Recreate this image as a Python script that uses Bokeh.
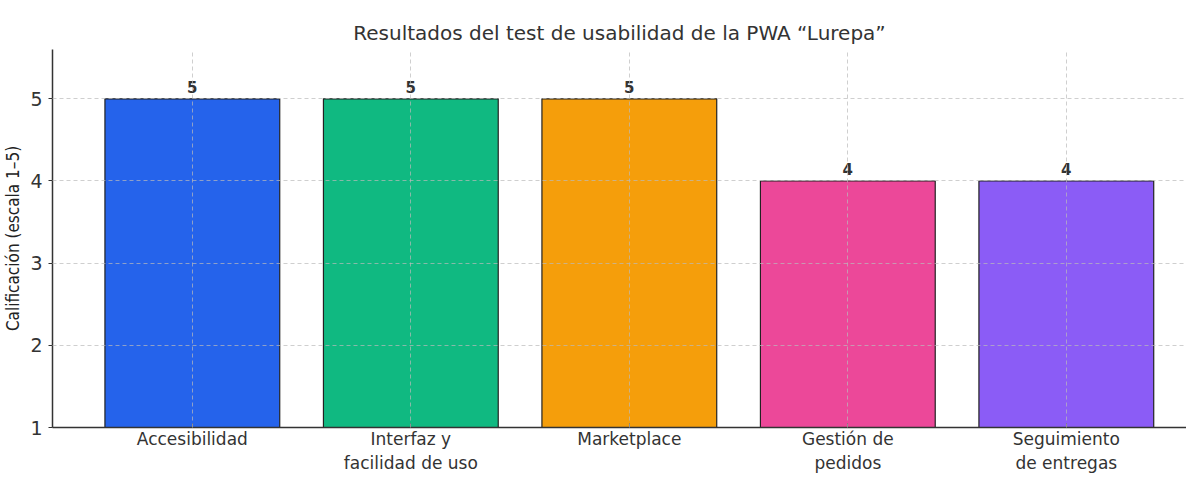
from bokeh.plotting import figure
from bokeh.models import ColumnDataSource, FixedTicker, Range1d
from bokeh.embed import file_html
from bokeh.resources import INLINE
from bokeh.core.properties import value

categories = ["Accesibilidad", "Interfaz y\nfacilidad de uso", "Marketplace",
              "Gestión de\npedidos", "Seguimiento\nde entregas"]
scores = [5, 5, 5, 4, 4]
bar_colors = ["#2563EB", "#10B981", "#F59E0B", "#EC4899", "#8B5CF6"]
y_ticks = [1, 2, 3, 4, 5]

xs = list(range(len(categories)))
src = ColumnDataSource(dict(x=xs, top=scores, color=bar_colors,
                            label=[str(s) for s in scores]))

p = figure(width=1186, height=475, output_backend="svg", toolbar_location=None,
           x_range=Range1d(-0.64, 4.55), y_range=Range1d(1, 5.6),
           min_border_left=50, min_border_right=0, min_border_top=49,
           min_border_bottom=0)
p.outline_line_color = None

p.title.text = "Resultados del test de usabilidad de la PWA “Lurepa”"
p.title.align = "center"
p.title.text_font = "DejaVu Sans"
p.title.text_font_size = "20px"
p.title.text_font_style = "normal"
p.title.text_color = "#333333"

p.vbar(x="x", top="top", bottom=1, width=0.8, fill_color="color",
       line_color="#222222", line_width=1.2, source=src)

p.text(x="x", y="top", text="label", source=src, y_offset=-6,
       text_align="center", text_baseline="bottom",
       text_font=value("DejaVu Sans"), text_font_style="bold",
       text_font_size="15px", text_color="#333333")

p.xaxis.ticker = FixedTicker(ticks=xs)
p.xaxis.major_label_overrides = {i: c for i, c in enumerate(categories)}
p.yaxis.ticker = FixedTicker(ticks=y_ticks)
p.yaxis.axis_label = "Calificación (escala 1–5)"

for ax in (p.xaxis[0], p.yaxis[0]):
    ax.axis_line_color = "#333333"
    ax.axis_line_width = 1.5
    ax.major_tick_line_color = "#333333"
    ax.minor_tick_line_color = None
    ax.major_label_text_font = "DejaVu Sans"
    ax.major_label_text_color = "#333333"

p.xaxis.major_tick_in = 4
p.xaxis.major_tick_out = 0
p.xaxis.major_label_text_font_size = "17px"
p.xaxis.major_label_standoff = 1
p.yaxis.major_tick_in = 0
p.yaxis.major_tick_out = 4
p.yaxis.major_label_text_font_size = "19px"
p.yaxis.major_label_standoff = 6
p.yaxis.axis_label_text_font = "DejaVu Sans Condensed"
p.yaxis.axis_label_text_font_size = "17px"
p.yaxis.axis_label_text_font_style = "normal"
p.yaxis.axis_label_text_color = "#222222"
p.yaxis.axis_label_standoff = 4

for g in (p.xgrid[0], p.ygrid[0]):
    g.grid_line_color = "#bbbbbb"
    g.grid_line_alpha = 0.7
    g.grid_line_dash = "4 3"
    g.grid_line_width = 1
    g.level = "overlay"

open("out.html", "w").write(file_html(p, INLINE))
